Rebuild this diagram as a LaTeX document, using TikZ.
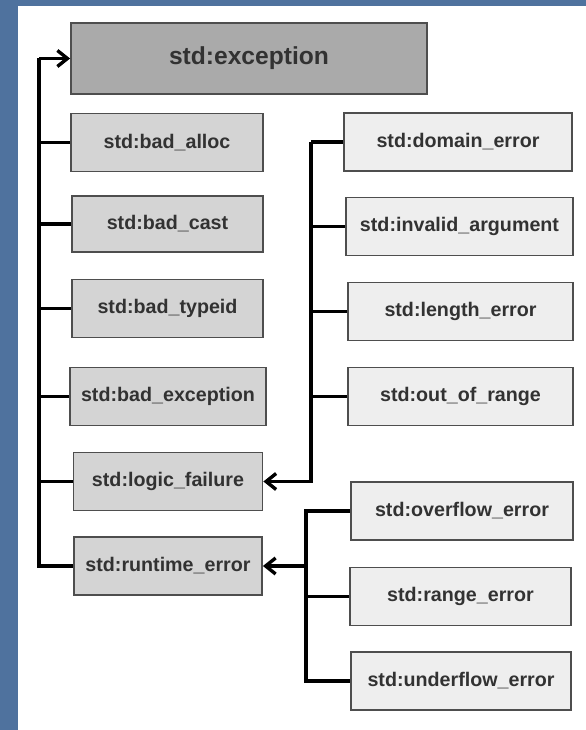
\documentclass[tikz,border=0pt]{standalone}
\usepackage{fontspec}
\setmainfont{Liberation Sans}
\usetikzlibrary{arrows.meta}

\definecolor{slide}{RGB}{79,114,158}
\definecolor{topfill}{RGB}{170,170,170}
\definecolor{leftfill}{RGB}{212,212,212}
\definecolor{rightfill}{RGB}{238,238,238}
\definecolor{rim}{RGB}{78,78,78}
\definecolor{ink}{RGB}{50,50,50}

\tikzset{
  classbox/.style={draw=rim, line width=2.6pt, text=ink, minimum height=2.9cm,
    font=\bfseries\fontsize{28}{32}\selectfont},
  conn/.style={line width=4.8pt, black},
  inherit/.style={conn, -{Straight Barb[length=0.5cm,width=0.8cm]}}
}

\begin{document}
\begin{tikzpicture}
    \useasboundingbox (0,0) rectangle (29.3,36.5);
    \fill[slide] (0,0) rectangle (29.3,36.5);
    \fill[white] (0.9,0) rectangle (29.3,36.2);

    %root
    \node[classbox, fill=topfill, minimum width=17.8cm, minimum height=3.55cm,
      font=\bfseries\fontsize{35}{40}\selectfont] (exc) at (12.45,33.575) {std:exception};

    %left column
    \node[classbox, fill=leftfill, minimum width=9.6cm] (balloc) at (8.35,29.375) {std:bad\_alloc};
    \node[classbox, fill=leftfill, minimum width=9.55cm, minimum height=2.8cm] (bcast) at (8.375,25.3) {std:bad\_cast};
    \node[classbox, fill=leftfill, minimum width=9.55cm] (btype) at (8.375,21.075) {std:bad\_typeid};
    \node[classbox, fill=leftfill, minimum width=9.8cm] (bexc) at (8.4,16.675) {std:bad\_exception};
    \node[classbox, fill=leftfill, minimum width=9.45cm] (logic) at (8.4,12.425) {std:logic\_failure};
    \node[classbox, fill=leftfill, minimum width=9.4cm] (rte) at (8.4,8.2) {std:runtime\_error};

    %logic branch
    \node[classbox, fill=rightfill, minimum width=11.4cm] (dom) at (22.9,29.4) {std:domain\_error};
    \node[classbox, fill=rightfill, minimum width=11.35cm] (inv) at (22.975,25.175) {std:invalid\_argument};
    \node[classbox, fill=rightfill, minimum width=11.25cm] (len) at (23.025,20.925) {std:length\_error};
    \node[classbox, fill=rightfill, minimum width=11.25cm] (oor) at (23.025,16.675) {std:out\_of\_range};

    %runtime branch
    \node[classbox, fill=rightfill, minimum width=11.1cm] (ovf) at (23.1,10.95) {std:overflow\_error};
    \node[classbox, fill=rightfill, minimum width=11.05cm] (rng) at (23.025,6.675) {std:range\_error};
    \node[classbox, fill=rightfill, minimum width=11cm] (udf) at (23.05,2.45) {std:underflow\_error};

    %left trunk
    \coordinate (ltop) at (1.95,33.575);
    \draw[inherit] (ltop) -- (exc.west);
    \draw[conn] (ltop) |- (rte.west);
    \foreach \n in {balloc,bcast,btype,bexc,logic}
        \draw[conn] (\n.west) -- (\n.west -| ltop);

    %logic trunk
    \coordinate (lgtop) at (15.55,29.4);
    \draw[conn] (dom.west) -- (lgtop);
    \draw[inherit] (lgtop) |- (logic.east);
    \foreach \n in {inv,len,oor}
        \draw[conn] (\n.west) -- (\n.west -| lgtop);

    %runtime trunk
    \coordinate (rttop) at (15.3,10.95);
    \draw[conn] (ovf.west) -- (rttop) |- (udf.west);
    \draw[conn] (rng.west) -- (rng.west -| rttop);
    \draw[inherit] (rte.east -| rttop) -- (rte.east);
\end{tikzpicture}
\end{document}
